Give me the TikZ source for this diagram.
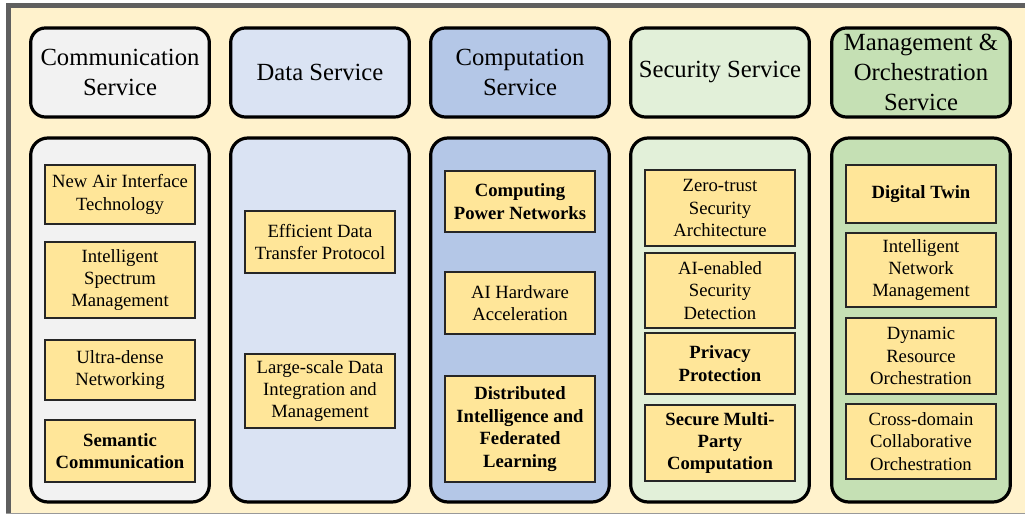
\documentclass[tikz,border=0pt]{standalone}
\usepackage{fontspec}
\setmainfont{LiberationSerif}[Extension=.ttf, UprightFont=*-Regular, BoldFont=*-Bold, ItalicFont=*-Italic, BoldItalicFont=*-BoldItalic]
\definecolor{cream}{HTML}{FFF2CC}
\definecolor{frame}{HTML}{5F5F5F}
\definecolor{cgray}{HTML}{F2F2F2}
\definecolor{clblue}{HTML}{DAE3F3}
\definecolor{cblue}{HTML}{B4C7E7}
\definecolor{clgreen}{HTML}{E2F0D9}
\definecolor{cgreen}{HTML}{C5E0B4}
\definecolor{cyellow}{HTML}{FFE699}
\tikzset{
  header/.style={draw=black, line width=2.4pt, rounded corners=11pt, minimum width=134pt, minimum height=66.75pt, align=center, font=\fontsize{18.5}{22.5}\selectfont, inner sep=0pt},
  container/.style={draw=black, line width=2.4pt, rounded corners=13pt, minimum width=134pt, minimum height=273pt, inner sep=0pt},
  ibox/.style={draw=black!85, line width=1pt, fill=cyellow, minimum width=112.5pt, align=center, font=\fontsize{14}{16.8}\selectfont, inner sep=0pt},
  bbox/.style={ibox, font=\fontsize{14}{16.8}\selectfont\bfseries}
}
\begin{document}
\begin{tikzpicture}[x=0.75pt, y=-0.75pt]
\useasboundingbox (0,0) rectangle (1025,516);
% frame
\fill[white] (0,0) rectangle (1025,516);
\fill[cream] (11,8) rectangle (1025,513);
\fill[frame] (6,3) rectangle (1025,8);
\fill[frame] (6,3) rectangle (11,514);
\draw[black!40, line width=0.75pt] (6,513.5) -- (1025,513.5);
% headers
\node[header, fill=cgray] (h1) at (120,72.5) {Communication\\Service};
\node[header, fill=clblue] (h2) at (320,72.5) {Data Service};
\node[header, fill=cblue] (h3) at (520,72.5) {Computation\\Service};
\node[header, fill=clgreen] (h4) at (720,72.5) {Security Service};
\node[header, fill=cgreen] (h5) at (921,72.5) {Management \&\\Orchestration\\Service};
% containers
\node[container, fill=cgray] (k1) at (120,320) {};
\node[container, fill=clblue] (k2) at (320,320) {};
\node[container, fill=cblue] (k3) at (520,320) {};
\node[container, fill=clgreen] (k4) at (720,320) {};
\node[container, fill=cgreen] (k5) at (921,320) {};
% column 1
\node[ibox, minimum height=44.25pt] (a1) at (120,194.5) {New Air Interface\\Technology};
\node[ibox, minimum height=57pt] (a2) at (120,280) {Intelligent\\Spectrum\\Management};
\node[ibox, minimum height=45pt] (a3) at (120,370) {Ultra-dense\\Networking};
\node[bbox, minimum height=46.5pt] (a4) at (120,451) {Semantic\\Communication};
% column 2
\node[ibox, minimum height=46.5pt] (b1) at (320,242) {Efficient Data\\Transfer Protocol};
\node[ibox, minimum height=55.5pt] (b2) at (320,391) {Large-scale Data\\Integration and\\Management};
% column 3
\node[bbox, minimum height=45.75pt] (c1) at (520,201.5) {Computing\\Power Networks};
\node[ibox, minimum height=46.5pt] (c2) at (520,303) {AI Hardware\\Acceleration};
\node[bbox, minimum height=79.5pt] (c3) at (520,429) {Distributed\\Intelligence and\\Federated\\Learning};
% column 4
\node[ibox, minimum height=57pt] (d1) at (720,208) {Zero-trust\\Security\\Architecture};
\node[ibox, minimum height=56.25pt] (d2) at (720,290.5) {AI-enabled\\Security\\Detection};
\node[bbox, minimum height=45.75pt] (d3) at (720,363.5) {Privacy\\Protection};
\node[bbox, minimum height=57pt] (d4) at (720,443) {Secure Multi-\\Party\\Computation};
% column 5
\node[bbox, minimum height=43.5pt] (e1) at (921,194) {Digital Twin};
\node[ibox, minimum height=55.5pt] (e2) at (921,270) {Intelligent\\Network\\Management};
\node[ibox, minimum height=57pt] (e3) at (921,356) {Dynamic\\Resource\\Orchestration};
\node[ibox, minimum height=56.25pt] (e4) at (921,441.5) {Cross-domain\\Collaborative\\Orchestration};
\end{tikzpicture}
\end{document}
